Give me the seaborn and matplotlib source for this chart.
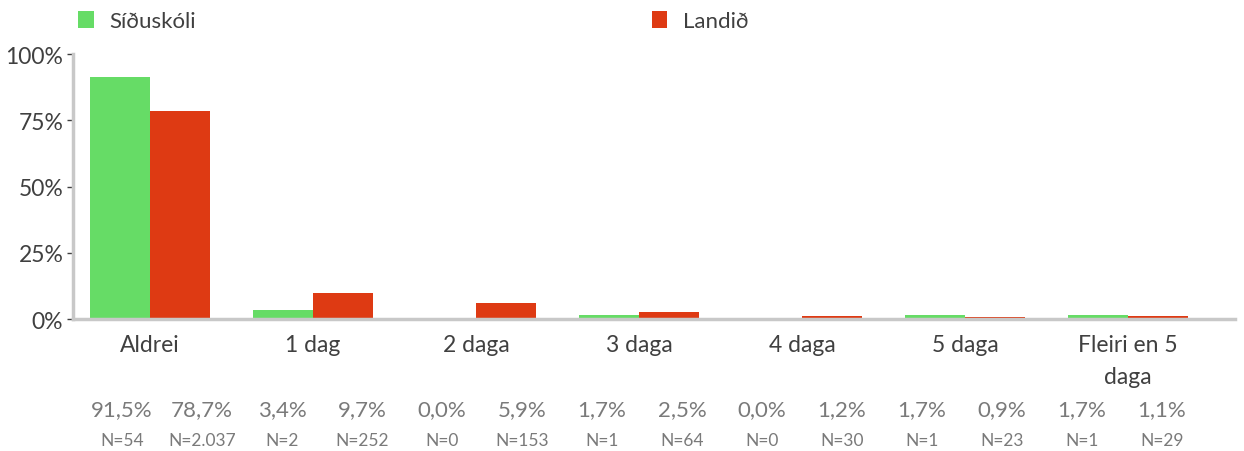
import numpy as np
import pandas as pd
import seaborn as sns
import matplotlib.pyplot as plt
from matplotlib.patches import Patch

# data
categories = ["Aldrei", "1 dag", "2 daga", "3 daga", "4 daga", "5 daga", "Fleiri en 5\ndaga"]
groups = ["Síðuskóli", "Landið"]
school_pct = [91.5, 3.4, 0.0, 1.7, 0.0, 1.7, 1.7]
country_pct = [78.7, 9.7, 5.9, 2.5, 1.2, 0.9, 1.1]
school_n = [54, 2, 0, 1, 0, 1, 1]
country_n = [2037, 252, 153, 64, 30, 23, 29]

colors = ["#66dc66", "#de3a13"]
txt_dark = "#404040"
txt_light = "#7a7a7a"
spine_col = "#c8c8c8"


def pct_str(v):
    return f"{v:.1f}%".replace(".", ",")


def n_str(n):
    return "N=" + f"{n:,}".replace(",", ".")


def main():
    df = pd.DataFrame({
        "cat": categories * 2,
        "group": [groups[0]] * len(categories) + [groups[1]] * len(categories),
        "val": [v / 100 for v in school_pct + country_pct],
    })

    sns.set_style("white")
    plt.rcParams["font.family"] = ["Lato", "DejaVu Sans"]

    fig, ax = plt.subplots(figsize=(12.44, 4.52), dpi=100)
    plt.subplots_adjust(left=0.0587, right=0.9928, top=0.878, bottom=0.292)

    sns.barplot(data=df, x="cat", y="val", hue="group", palette=colors,
                order=categories, hue_order=groups, width=0.74, gap=0,
                saturation=1, legend=False, ax=ax, linewidth=0)

    ax.set_xlim(-0.472, 6.656)
    ax.set_ylim(0, 1.0)
    ax.set_yticks([0, 0.25, 0.5, 0.75, 1.0])
    ax.set_yticklabels(["0%", "25%", "50%", "75%", "100%"])
    ax.set_xlabel("")
    ax.set_ylabel("")

    for s in ["top", "right"]:
        ax.spines[s].set_visible(False)
    for s in ["left", "bottom"]:
        ax.spines[s].set_color(spine_col)
        ax.spines[s].set_linewidth(2.5)

    ax.tick_params(axis="y", left=True, length=4, width=1, color=txt_dark,
                   labelsize=16.5, labelcolor=txt_dark, pad=3)
    ax.tick_params(axis="x", bottom=False, labelsize=16.5, labelcolor=txt_dark, pad=7)
    for lbl in ax.get_xticklabels():
        lbl.set_linespacing(1.7)

    # legend across the top
    handles = [Patch(facecolor=c, edgecolor="none") for c in colors]
    fig.legend(handles, groups, loc="upper left", bbox_to_anchor=(0.047, 1.017),
               ncol=2, frameon=False, fontsize=16, handlelength=0.7,
               handleheight=0.75, handletextpad=0.7, columnspacing=20.5,
               labelcolor=txt_dark)

    # value / count table under the axis
    W = 1244.0
    for k in range(len(categories)):
        for j, (pcts, ns) in enumerate([(school_pct, school_n), (country_pct, country_n)]):
            xpx = 122 + 160 * k + 80 * j
            fig.text(xpx / W, 0.093, pct_str(pcts[k]), ha="center", va="center",
                     fontsize=16, color=txt_light)
            fig.text(xpx / W, 0.024, n_str(ns[k]), ha="center", va="center",
                     fontsize=12.5, color=txt_light)

    plt.savefig("out.png", dpi=100)


if __name__ == "__main__":
    main()
